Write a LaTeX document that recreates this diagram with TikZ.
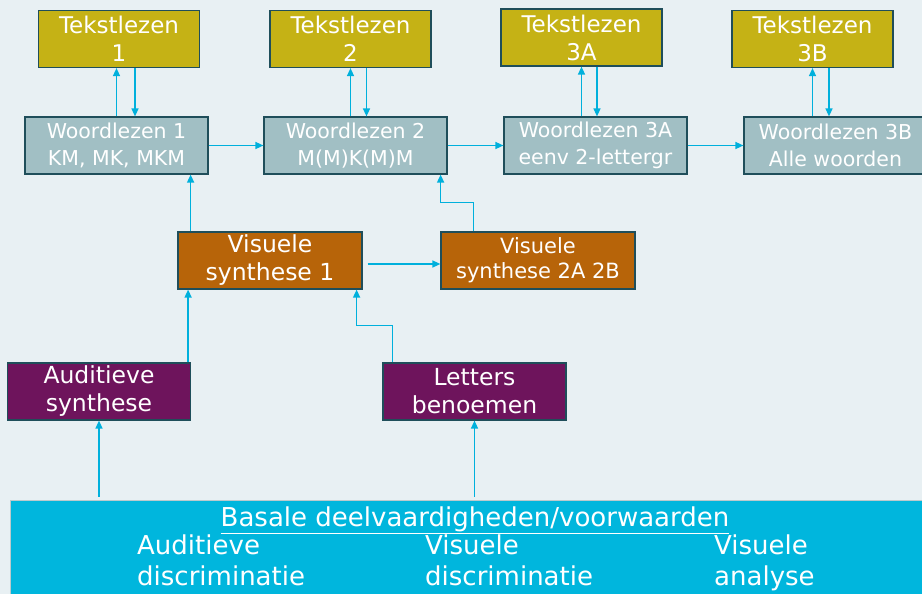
\documentclass[tikz,border=0pt]{standalone}
\usepackage{fontspec}
\setmainfont{DejaVu Sans}
\usetikzlibrary{arrows.meta}

\definecolor{achtergrond}{HTML}{E8F0F3}
\definecolor{randkleur}{HTML}{1F4E5A}
\definecolor{pijlkleur}{HTML}{00B0DC}
\definecolor{tekstkleur}{HTML}{C5B215}
\definecolor{woordkleur}{HTML}{A1BFC4}
\definecolor{synthkleur}{HTML}{B76409}
\definecolor{paars}{HTML}{6E145C}
\definecolor{basiskleur}{HTML}{00B6DD}

\begin{document}
\begin{tikzpicture}[x = 1pt, y = -1pt]
\tikzstyle{boxStyle}=[shape = rectangle, draw = randkleur, line width = 1.2pt, inner sep = 0pt, text = white, align = center]
\tikzstyle{tekstStyle}=[boxStyle, fill = tekstkleur, minimum width = 161pt, minimum height = 57pt, font = \fontsize{23}{28}\selectfont]
\tikzstyle{woordStyle}=[boxStyle, fill = woordkleur, minimum width = 183pt, minimum height = 57pt, font = \fontsize{20.5}{26.5}\selectfont]
\tikzstyle{synthStyle}=[boxStyle, fill = synthkleur, minimum height = 57pt, font = \fontsize{23.5}{28}\selectfont]
\tikzstyle{paarsStyle}=[boxStyle, fill = paars, minimum width = 183pt, minimum height = 57pt, font = \fontsize{23.5}{28}\selectfont]
\tikzstyle{basisStyle}=[shape = rectangle, draw = randkleur!30, fill = basiskleur, minimum width = 925pt, minimum height = 110pt]
\tikzstyle{basisTekstStyle}=[inner sep = 0pt, text = white, align = left, font = \fontsize{26}{31}\selectfont]
\tikzstyle{EdgeStyle}=[draw = pijlkleur, line width = 1.4pt, -{Triangle[length = 8pt, width = 7pt]}]
\useasboundingbox (0, 0) rectangle (922, 594);
\clip (0, 0) rectangle (922, 594);
\fill[achtergrond] (0, 0) rectangle (922, 594);
% tekstlezen
\node[tekstStyle] (t1) at (119, 39) {Tekstlezen\\1};
\node[tekstStyle] (t2) at (350.5, 39) {Tekstlezen\\2};
\node[tekstStyle] (t3a) at (581.5, 37.5) {Tekstlezen\\3A};
\node[tekstStyle] (t3b) at (812.5, 39) {Tekstlezen\\3B};
% woordlezen
\node[woordStyle] (w1) at (116.5, 145.5) {Woordlezen 1\\KM, MK, MKM};
\node[woordStyle] (w2) at (355.5, 145.5) {Woordlezen 2\\M(M)K(M)M};
\node[woordStyle] (w3a) at (595.5, 145.5) {Woordlezen 3A\\eenv 2-lettergr};
\node[woordStyle] (w3b) at (835.5, 145.5) {Woordlezen 3B\\Alle woorden};
% synthese
\node[synthStyle, minimum width = 184pt] (s1) at (270, 260.5) {Visuele\\synthese 1};
\node[synthStyle, minimum width = 194pt, font = \fontsize{21}{25}\selectfont] (s2) at (538, 260.5) {Visuele\\synthese 2A 2B};
\node[paarsStyle] (as) at (99, 391.5) {Auditieve\\synthese};
\node[paarsStyle] (lb) at (474.5, 391.5) {Letters\\benoemen};
% basis
\node[basisStyle] (bd) at (472.5, 555) {};
\node[basisTekstStyle, anchor = base] (titel) at (475, 526) {\underline{Basale deelvaardigheden/voorwaarden}};
\node[basisTekstStyle, anchor = north west] (ad) at (137, 535) {Auditieve\\discriminatie};
\node[basisTekstStyle, anchor = north west] (vd) at (425, 535) {Visuele\\discriminatie};
\node[basisTekstStyle, anchor = north west] (va) at (714, 535) {Visuele\\analyse};
\coordinate (d1) at ([xshift = 16pt]t1.south);
\coordinate (d2) at ([xshift = 16pt]t2.south);
\coordinate (d3) at ([xshift = 15.5pt]t3a.south);
\coordinate (d4) at ([xshift = 16.5pt]t3b.south);
\coordinate (c1) at ([xshift = -18pt]w1.south east);
\coordinate (c2) at ([xshift = -3pt]as.north east);
\draw[EdgeStyle] (w1.north) -- (w1.north |- t1.south);
\draw[EdgeStyle] (d1) -- (d1 |- w1.north);
\draw[EdgeStyle] (t2.south |- w2.north) -- (t2.south);
\draw[EdgeStyle] (d2) -- (d2 |- w2.north);
\draw[EdgeStyle] (t3a.south |- w3a.north) -- (t3a.south);
\draw[EdgeStyle] (d3) -- (d3 |- w3a.north);
\draw[EdgeStyle] (t3b.south |- w3b.north) -- (t3b.south);
\draw[EdgeStyle] (d4) -- (d4 |- w3b.north);
\draw[EdgeStyle] (w1) -- (w2);
\draw[EdgeStyle] (w2) -- (w3a);
\draw[EdgeStyle] (w3a) -- (w3b);
\draw[EdgeStyle] ([xshift = 5pt, yshift = -3.5pt]s1.east) -- ([yshift = -3.5pt]s2.west);
\draw[EdgeStyle] (c1 |- s1.north) -- (c1);
\draw[EdgeStyle] ([xshift = 33pt]s2.north west) -- ++(0, -29) -| ([xshift = -7pt]w2.south east);
\draw[EdgeStyle] (c2) -- (c2 |- s1.south);
\draw[EdgeStyle] ([xshift = 10pt]lb.north west) -- ++(0, -37) -| ([xshift = -6pt]s1.south east);
\draw[EdgeStyle] ([yshift = 3pt]as.south |- bd.north) -- (as.south);
\draw[EdgeStyle] ([yshift = 3pt]lb.south |- bd.north) -- (lb.south);
\end{tikzpicture}
\end{document}
